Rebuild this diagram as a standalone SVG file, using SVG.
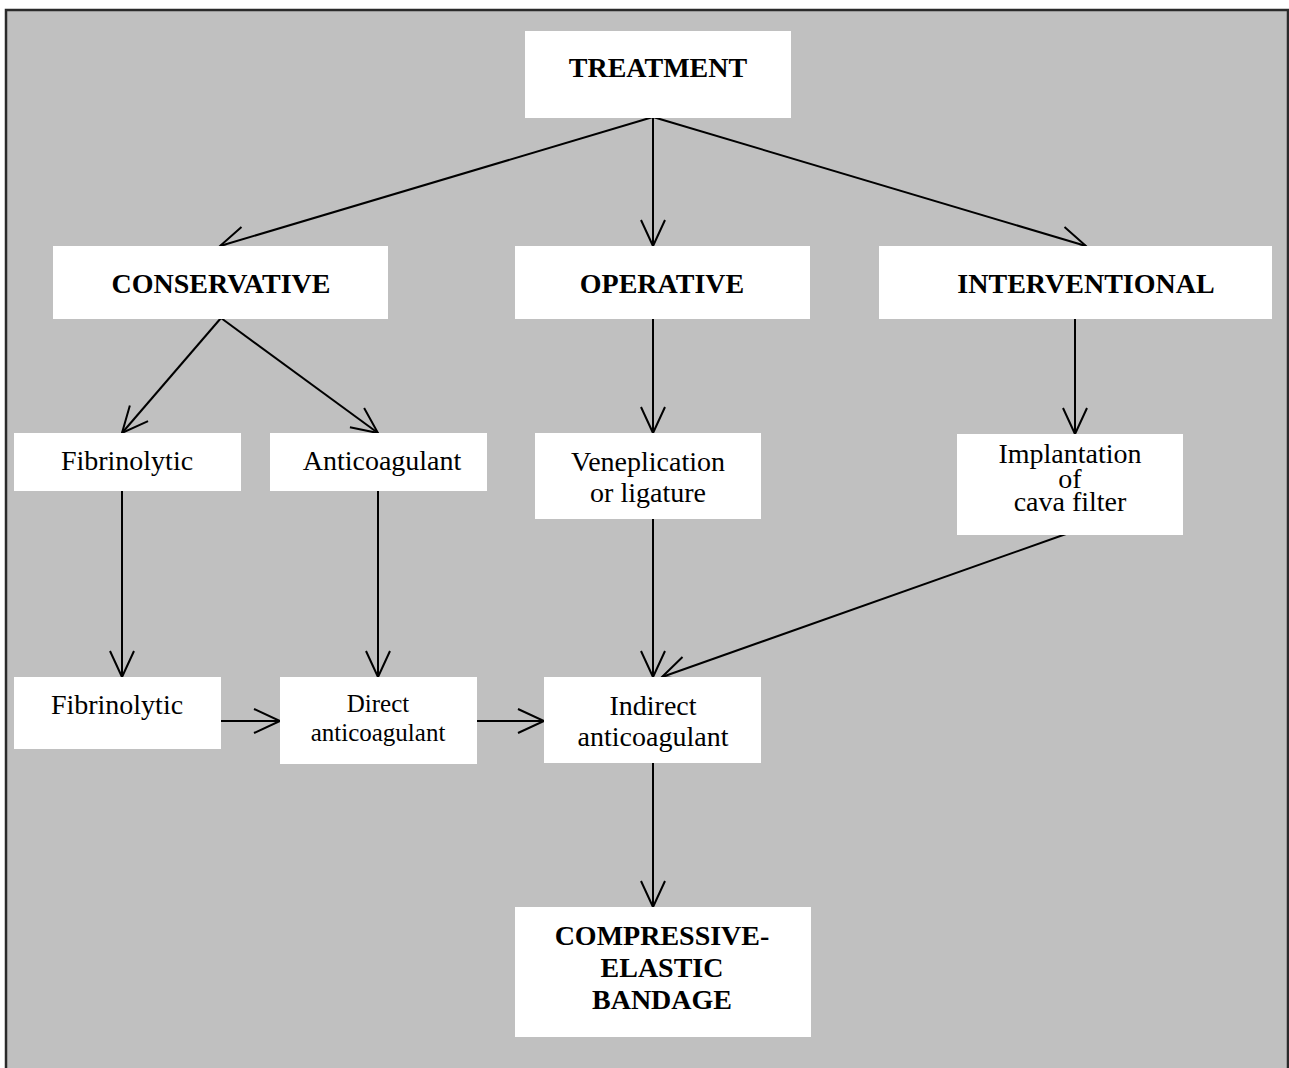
<svg xmlns="http://www.w3.org/2000/svg" width="1289" height="1068" viewBox="0 0 1289 1068">
<style>
.bg{fill:#c0c0c0;stroke:#2a2a2a;stroke-width:2.5}
.box{fill:#ffffff;stroke:none}
.t{font-family:"Liberation Serif","Times New Roman",serif;font-size:28px;fill:#000;text-anchor:middle}
.b{font-weight:bold}
.s{font-size:25px}
.c{fill:none;stroke:#000;stroke-width:2}
</style>
<defs>
<marker id="ah" markerUnits="userSpaceOnUse" viewBox="-28 -14 30 28" refX="0" refY="0" markerWidth="30" markerHeight="28" orient="auto" overflow="visible">
<path d="M-26,-12 L0,0 L-26,12" fill="none" stroke="#000" stroke-width="2"/>
</marker>
</defs>
<rect x="0" y="0" width="1289" height="1068" fill="#ffffff"/>
<rect class="bg" x="6" y="10" width="1282" height="1070"/>
<g id="connectors">
<line class="c" x1="653" y1="117" x2="220" y2="246" marker-end="url(#ah)"/>
<line class="c" x1="653" y1="117" x2="653" y2="246" marker-end="url(#ah)"/>
<line class="c" x1="653" y1="117" x2="1086" y2="246" marker-end="url(#ah)"/>
<line class="c" x1="221" y1="318" x2="122" y2="433" marker-end="url(#ah)"/>
<line class="c" x1="221" y1="318" x2="378" y2="433" marker-end="url(#ah)"/>
<line class="c" x1="653" y1="318" x2="653" y2="433" marker-end="url(#ah)"/>
<line class="c" x1="1075" y1="318" x2="1075" y2="434" marker-end="url(#ah)"/>
<line class="c" x1="122" y1="490" x2="122" y2="677" marker-end="url(#ah)"/>
<line class="c" x1="378" y1="490" x2="378" y2="677" marker-end="url(#ah)"/>
<line class="c" x1="653" y1="519" x2="653" y2="677" marker-end="url(#ah)"/>
<line class="c" x1="1066" y1="534" x2="662" y2="677" marker-end="url(#ah)"/>
<line class="c" x1="221" y1="721" x2="280" y2="721" marker-end="url(#ah)"/>
<line class="c" x1="477" y1="721" x2="544" y2="721" marker-end="url(#ah)"/>
<line class="c" x1="653" y1="763" x2="653" y2="907" marker-end="url(#ah)"/>
</g>
<g id="treatment"><rect class="box" x="525" y="31" width="266" height="87"/><text class="t b" x="658" y="77">TREATMENT</text></g>
<g id="conservative"><rect class="box" x="53" y="246" width="335" height="73"/><text class="t b" x="221" y="293">CONSERVATIVE</text></g>
<g id="operative"><rect class="box" x="515" y="246" width="295" height="73"/><text class="t b" x="662" y="293">OPERATIVE</text></g>
<g id="interventional"><rect class="box" x="879" y="246" width="393" height="73"/><text class="t b" x="1086" y="293">INTERVENTIONAL</text></g>
<g id="fibrinolytic1"><rect class="box" x="14" y="433" width="227" height="58"/><text class="t" x="127" y="470">Fibrinolytic</text></g>
<g id="anticoagulant"><rect class="box" x="270" y="433" width="217" height="58"/><text class="t" x="382" y="470">Anticoagulant</text></g>
<g id="veneplication"><rect class="box" x="535" y="433" width="226" height="86"/><text class="t" x="648" y="471">Veneplication</text><text class="t" x="648" y="502">or ligature</text></g>
<g id="implantation"><rect class="box" x="957" y="434" width="226" height="101"/><text class="t" x="1070" y="463">Implantation</text><text class="t" x="1070" y="488">of</text><text class="t" x="1070" y="511">cava filter</text></g>
<g id="fibrinolytic2"><rect class="box" x="14" y="677" width="207" height="72"/><text class="t" x="117" y="714">Fibrinolytic</text></g>
<g id="direct"><rect class="box" x="280" y="677" width="197" height="87"/><text class="t s" x="378" y="712">Direct</text><text class="t s" x="378" y="741">anticoagulant</text></g>
<g id="indirect"><rect class="box" x="544" y="677" width="217" height="86"/><text class="t" x="653" y="715">Indirect</text><text class="t" x="653" y="746">anticoagulant</text></g>
<g id="compressive"><rect class="box" x="515" y="907" width="296" height="130"/><text class="t b" x="662" y="945">COMPRESSIVE-</text><text class="t b" x="662" y="977">ELASTIC</text><text class="t b" x="662" y="1009">BANDAGE</text></g>
</svg>
